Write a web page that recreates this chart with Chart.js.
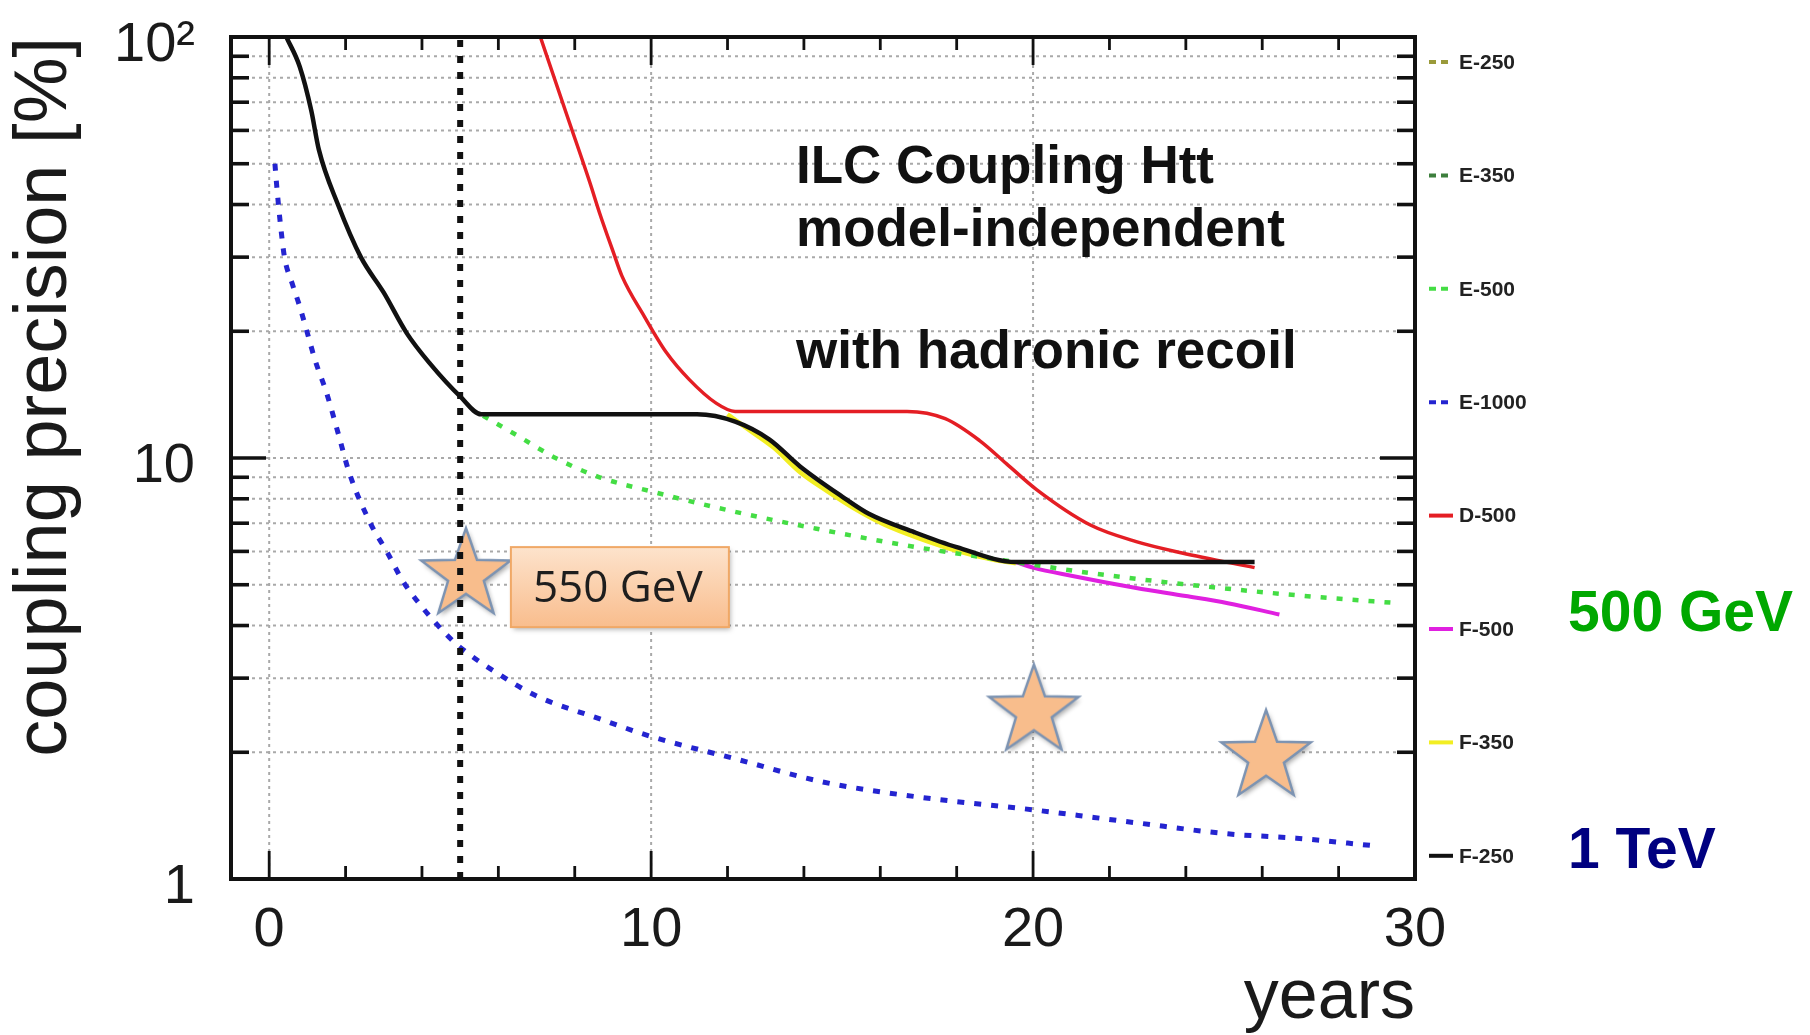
<!DOCTYPE html>
<html>
<head>
<meta charset="utf-8">
<title>ILC Coupling Htt</title>
<script src="https://cdn.jsdelivr.net/npm/chart.js@4.4.1/dist/chart.umd.min.js"></script>
<style>
  html, body { margin: 0; padding: 0; background: #fff; }
  #wrap { width: 1810px; height: 1035px; position: relative; }
</style>
</head>
<body>
<div id="wrap"><canvas id="htt"></canvas></div>
<script>
// axes
const xTicks = [0, 10, 20, 30];
const xMinorTicks = [2, 4, 6, 8, 12, 14, 16, 18, 22, 24, 26, 28];
const yTicks = [1, 10, 100];
const yTickLabels = ['1', '10', '10²'];
const yMinorTicks = [2, 3, 4, 5, 6, 7, 8, 9, 20, 30, 40, 50, 60, 70, 80, 90];
const gridX = [0, 10, 20];
const gridY = [2, 3, 4, 5, 6, 7, 8, 9, 10, 20, 30, 40, 50, 60, 70, 80, 90];

// curves (years, precision %)
const f250X = [0.45, 0.8, 1.1, 1.3, 1.8, 2.4, 3.0, 3.6, 4.2, 5.0, 5.55, 8.0, 11.2, 12.2, 13.1, 13.9, 15.0, 15.7, 16.9, 18.0, 19.55, 22.0, 25.8];
const f250Y = [100, 85, 67, 54, 40, 30, 24.7, 19.8, 16.8, 14.0, 12.7, 12.7, 12.7, 12.2, 11.06, 9.55, 8.1, 7.37, 6.66, 6.14, 5.66, 5.66, 5.66];
const f350X = [12.0, 12.6, 13.2, 13.9, 14.6, 15.3, 16.1, 17.0, 18.0, 19.0, 19.55];
const f350Y = [12.7, 11.6, 10.6, 9.25, 8.35, 7.6, 6.95, 6.45, 6.02, 5.72, 5.62];
const f500X = [19.55, 20.0, 21.0, 22.7, 24.0, 25.1, 26.45];
const f500Y = [5.66, 5.49, 5.25, 4.91, 4.7, 4.52, 4.25];
const d500X = [7.1, 7.8, 8.4, 8.65, 9.0, 9.24, 9.82, 10.4, 11.0, 11.7, 12.2, 16.7, 17.7, 18.6, 19.3, 20.1, 21.5, 22.7, 23.9, 25.8];
const d500Y = [100, 65, 45, 38.2, 31, 27, 21.7, 17.8, 15.35, 13.5, 12.9, 12.9, 12.4, 11.0, 9.7, 8.4, 6.93, 6.33, 5.95, 5.49];
const e500X = [5.6, 6.5, 7.5, 8.65, 10.0, 12.2, 14.3, 16.9, 19.2, 21.5, 23.9, 26.9, 29.55];
const e500Y = [12.6, 11.3, 10.0, 9.0, 8.33, 7.45, 6.8, 6.15, 5.72, 5.33, 5.02, 4.72, 4.52];
const e1000X = [0.15, 0.2, 0.3, 0.4, 0.6, 0.8, 1.0, 1.2, 1.5, 1.8, 2.1, 2.65, 3.1, 3.5, 4.0, 4.6, 5.0, 6.0, 7.0, 8.6, 10, 12.2, 14.5, 16.9, 20, 22.7, 25.1, 26.9, 28.9];
const e1000Y = [50, 44, 35.5, 30, 26, 22.9, 19.8, 17.1, 14.3, 11.5, 9.2, 7.0, 5.95, 5.1, 4.43, 3.84, 3.55, 3.07, 2.72, 2.41, 2.18, 1.93, 1.70, 1.57, 1.46, 1.36, 1.28, 1.25, 1.20];
const cutX = [5, 5];
const cutY = [1, 100];
const starX = [5.15, 20.02, 26.1];
const starY = [5.27, 2.5, 1.95];

const legendNames = ['E-250', 'E-350', 'E-500', 'E-1000', 'D-500', 'F-500', 'F-350', 'F-250'];
const font = "'Liberation Sans', Arial, Helvetica, sans-serif";

function pts(xs, ys) {
    return xs.map((v, i) => ({ x: v, y: ys[i] }));
}

function makeStar(r) {
    const pad = 10;
    const c = document.createElement('canvas');
    c.width = c.height = Math.ceil(2 * r + 2 * pad);
    const g = c.getContext('2d');
    const cx = c.width / 2, cy = c.height / 2;
    g.beginPath();
    for (let i = 0; i < 10; i++) {
        const rr = i % 2 ? r * 0.4 : r;
        const ang = -Math.PI / 2 + i * Math.PI / 5;
        g.lineTo(cx + rr * Math.cos(ang), cy + rr * Math.sin(ang));
    }
    g.closePath();
    g.shadowColor = 'rgba(0,0,0,0.35)';
    g.shadowBlur = 5;
    g.shadowOffsetX = 2;
    g.shadowOffsetY = 3;
    g.fillStyle = '#f8bd8c';
    g.fill();
    g.shadowColor = 'transparent';
    g.strokeStyle = '#7c93b2';
    g.lineWidth = 2.5;
    g.stroke();
    return c;
}

function line(ctx, x1, y1, x2, y2) {
    ctx.beginPath();
    ctx.moveTo(x1, y1);
    ctx.lineTo(x2, y2);
    ctx.stroke();
}

// grid, frame, inner ticks, texts and the legend at the right
const decor = {
    id: 'decor',
    beforeDatasetsDraw(chart) {
        const { ctx, chartArea: a, scales: { x, y } } = chart;
        ctx.save();
        ctx.strokeStyle = '#a9a9a9';
        ctx.lineWidth = 2;
        ctx.setLineDash([3, 4]);
        gridX.forEach(v => { const p = x.getPixelForValue(v); line(ctx, p, a.top, p, a.bottom); });
        gridY.forEach(v => { const p = y.getPixelForValue(v); line(ctx, a.left, p, a.right, p); });
        ctx.restore();
    },
    afterDatasetsDraw(chart) {
        const { ctx, chartArea: a, scales: { x, y } } = chart;
        ctx.save();
        ctx.strokeStyle = '#111';
        ctx.lineWidth = 2.8;
        xTicks.forEach(v => {
            const p = x.getPixelForValue(v);
            line(ctx, p, a.bottom, p, a.bottom - 28);
            line(ctx, p, a.top, p, a.top + 28);
        });
        xMinorTicks.forEach(v => {
            const p = x.getPixelForValue(v);
            line(ctx, p, a.bottom, p, a.bottom - 13);
            line(ctx, p, a.top, p, a.top + 13);
        });
        ctx.lineWidth = 3.6;
        yMinorTicks.forEach(v => {
            const p = y.getPixelForValue(v);
            line(ctx, a.left, p, a.left + 18, p);
            line(ctx, a.right, p, a.right - 18, p);
        });
        const p10 = y.getPixelForValue(10);
        line(ctx, a.left, p10, a.left + 35, p10);
        line(ctx, a.right, p10, a.right - 35, p10);
        ctx.lineWidth = 4;
        ctx.strokeRect(a.left, a.top, a.right - a.left, a.bottom - a.top);
        ctx.restore();
    },
    afterDraw(chart) {
        const { ctx, scales: { x, y } } = chart;
        ctx.save();
        // title block
        ctx.fillStyle = '#111';
        ctx.font = 'bold 53px ' + font;
        ctx.textBaseline = 'alphabetic';
        ctx.fillText('ILC Coupling Htt', 796, 183);
        ctx.fillText('model-independent', 796, 246);
        ctx.fillText('with hadronic recoil', 796, 368);

        // 550 GeV label next to the first star
        const bx = x.getPixelForValue(starX[0]) + 45;
        const by = y.getPixelForValue(starY[0]) - 28;
        const bw = 218, bh = 80;
        const grad = ctx.createLinearGradient(0, by, 0, by + bh);
        grad.addColorStop(0, '#fde3cc');
        grad.addColorStop(1, '#f9bd8d');
        ctx.shadowColor = 'rgba(0,0,0,0.3)';
        ctx.shadowBlur = 5;
        ctx.shadowOffsetX = 2;
        ctx.shadowOffsetY = 3;
        ctx.fillStyle = grad;
        ctx.fillRect(bx, by, bw, bh);
        ctx.shadowColor = 'transparent';
        ctx.strokeStyle = '#f0a866';
        ctx.lineWidth = 2;
        ctx.strokeRect(bx, by, bw, bh);
        ctx.fillStyle = '#1e1e1e';
        ctx.font = "44px 'Open Sans', Lato, sans-serif";
        ctx.textBaseline = 'middle';
        ctx.fillText('550 GeV', bx + 22, by + bh / 2 + 2);

        // energy notes
        ctx.textBaseline = 'alphabetic';
        ctx.font = 'bold 57px ' + font;
        ctx.fillStyle = '#00a800';
        ctx.fillText('500 GeV', 1568, 631);
        ctx.fillStyle = '#000080';
        ctx.fillText('1 TeV', 1568, 868);

        // legend
        ctx.font = 'bold 21px ' + font;
        ctx.textBaseline = 'middle';
        legendNames.forEach((name, i) => {
            const ds = chart.data.datasets.find(d => d.label === name);
            const ly = 62 + i * 113.4;
            ctx.strokeStyle = ds.borderColor;
            ctx.lineWidth = 4;
            ctx.setLineDash(ds.borderDash && ds.borderDash.length ? [7, 5] : []);
            line(ctx, 1429, ly, 1453, ly);
            ctx.setLineDash([]);
            ctx.fillStyle = '#222';
            ctx.fillText(name, 1459, ly + 1);
        });
        ctx.restore();
    }
};

const starImg = makeStar(47);

const ctx = document.getElementById('htt').getContext('2d');
let chart = new Chart(ctx, {
    type: 'line',
    data: {
        datasets: [
            { label: 'cut', data: pts(cutX, cutY), borderColor: '#111', borderWidth: 6, borderDash: [7, 9], order: 0 },
            { label: 'F-250', data: pts(f250X, f250Y), borderColor: '#111111', borderWidth: 4.5, cubicInterpolationMode: 'monotone', order: 1 },
            { label: 'stars', data: pts(starX, starY), showLine: false, pointStyle: starImg, pointRadius: 20, borderColor: 'transparent', order: 2 },
            { label: 'D-500', data: pts(d500X, d500Y), borderColor: '#e41e24', borderWidth: 3.5, cubicInterpolationMode: 'monotone', order: 3 },
            { label: 'F-500', data: pts(f500X, f500Y), borderColor: '#e020e0', borderWidth: 4, cubicInterpolationMode: 'monotone', order: 5 },
            { label: 'F-350', data: pts(f350X, f350Y), borderColor: '#f2ee22', borderWidth: 4.5, cubicInterpolationMode: 'monotone', order: 6 },
            { label: 'E-500', data: pts(e500X, e500Y), borderColor: '#44dd44', borderWidth: 4.5, borderDash: [6, 10], cubicInterpolationMode: 'monotone', order: 4 },
            { label: 'E-1000', data: pts(e1000X, e1000Y), borderColor: '#2424d0', borderWidth: 5, borderDash: [7, 10], cubicInterpolationMode: 'monotone', order: 7 },
            { label: 'E-350', data: [], borderColor: '#3d7f3d', borderWidth: 4, borderDash: [6, 6], order: 8 },
            { label: 'E-250', data: [], borderColor: '#9a9a3a', borderWidth: 4, borderDash: [6, 6], order: 9 }
        ]
    },
    options: {
        responsive: true,
        maintainAspectRatio: false,
        animation: false,
        layout: { padding: { top: 37, right: 395, left: 0, bottom: 0 } },
        elements: { point: { radius: 0 } },
        plugins: {
            legend: { display: false },
            tooltip: { enabled: false }
        },
        scales: {
            x: {
                type: 'linear',
                min: -1,
                max: 30,
                afterBuildTicks: s => { s.ticks = xTicks.map(v => ({ value: v })); },
                afterFit: s => { s.height = 156; },
                grid: { display: false, drawTicks: false },
                border: { display: false },
                ticks: {
                    font: { family: font, size: 56 },
                    color: '#1a1a1a',
                    padding: 18,
                    maxRotation: 0,
                    callback: v => String(v)
                },
                title: {
                    display: true,
                    text: 'years',
                    align: 'end',
                    color: '#1a1a1a',
                    font: { family: font, size: 70, lineHeight: 1 },
                    padding: { top: 0, bottom: 1 }
                }
            },
            y: {
                type: 'logarithmic',
                min: 1,
                max: 100,
                afterBuildTicks: s => { s.ticks = yTicks.map(v => ({ value: v })); },
                afterFit: s => { s.width = 231; },
                // tickLength keeps the labels away from the frame without adding top padding
                grid: { display: false, drawTicks: true, tickLength: 34 },
                border: { display: false },
                ticks: {
                    font: { family: font, size: 56 },
                    color: '#1a1a1a',
                    padding: 2,
                    labelOffset: 9,
                    callback: v => yTickLabels[yTicks.indexOf(v)]
                },
                title: {
                    display: true,
                    text: 'coupling precision [%]',
                    align: 'end',
                    color: '#1a1a1a',
                    font: { family: font, size: 74, lineHeight: 1.2 },
                    padding: { top: 1, bottom: 0 }
                }
            }
        }
    },
    plugins: [decor]
});
</script>
</body>
</html>
